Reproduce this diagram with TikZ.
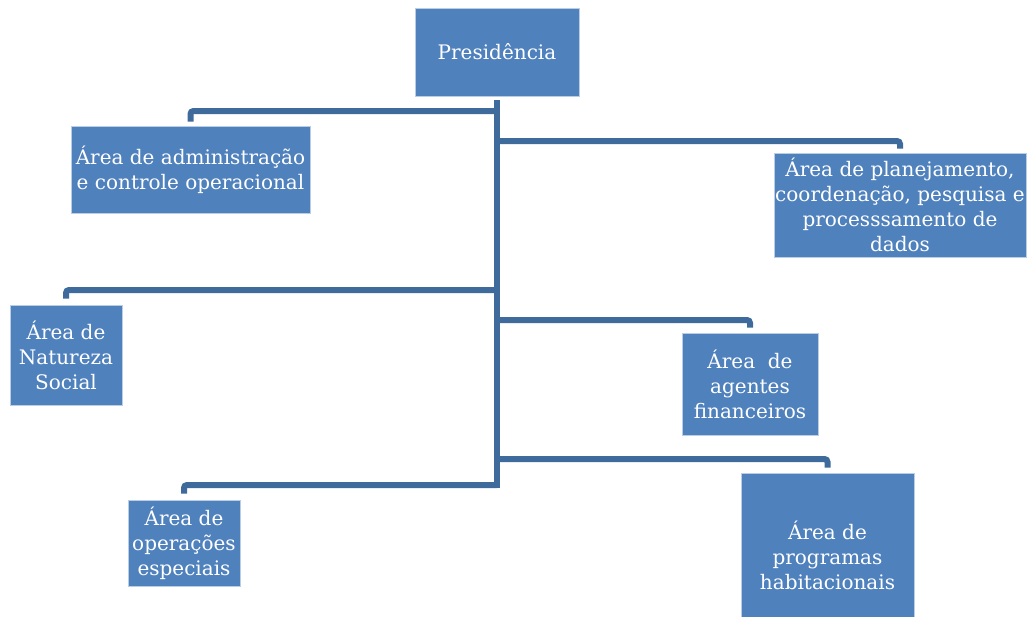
\documentclass[tikz,border=0pt]{standalone}
\usepackage{fontspec}
\setmainfont{DejaVu Serif}
\definecolor{boxblue}{HTML}{4F81BD}
\definecolor{linkblue}{HTML}{3F6A9C}
\definecolor{boxedge}{HTML}{B9CDE5}
\begin{document}
\begin{tikzpicture}[x=1pt,y=-1pt,
  box/.style={rectangle, fill=boxblue, draw=boxedge, line width=0.7pt, inner sep=0pt,
    text=white, align=center, font=\fontsize{20}{25}\selectfont},
  conn/.style={draw=linkblue, line width=6pt, rounded corners=3pt}]
\useasboundingbox (0,0) rectangle (1028,616);
% boxes
\node[box, minimum width=164pt, minimum height=88pt] (pres) at (497,52) {Presidência};
\node[box, minimum width=239pt, minimum height=87pt] (admin) at (190.5,169.5) {Área de administração\\e controle operacional};
\node[box, minimum width=252pt, minimum height=104pt] (plan) at (900,205) {Área de planejamento,\\coordenação, pesquisa e\\processsamento de\\dados};
\node[box, minimum width=112pt, minimum height=100pt] (nat) at (66,355) {Área de\\Natureza\\Social};
\node[box, minimum width=136pt, minimum height=102pt] (agen) at (750,384) {Área\ \ de\\agentes\\financeiros};
\node[box, minimum width=112pt, minimum height=86pt] (oper) at (184,543) {Área de\\operações\\especiais};
\node[box, minimum width=173pt, minimum height=164pt] (habit) at (827.5,555) {Área de\\programas\\habitacionais};
% trunk
\coordinate (tb) at (497,488);
\draw[conn, rounded corners=0pt] ([yshift=-4pt]pres.south) -- (pres.south |- tb);
% branches
\draw[conn] (pres.south |- 0,111) -| ([yshift=4pt]admin.north);
\draw[conn] (pres.south |- 0,141) -| ([yshift=4pt]plan.north);
\draw[conn] (pres.south |- 0,290) -| ([yshift=6pt]nat.north);
\draw[conn] (pres.south |- 0,320) -| ([yshift=5pt]agen.north);
\draw[conn] (pres.south |- 0,459) -| ([yshift=5pt]habit.north);
\draw[conn] (pres.south |- 0,485) -| ([yshift=6pt]oper.north);
\end{tikzpicture}
\end{document}
